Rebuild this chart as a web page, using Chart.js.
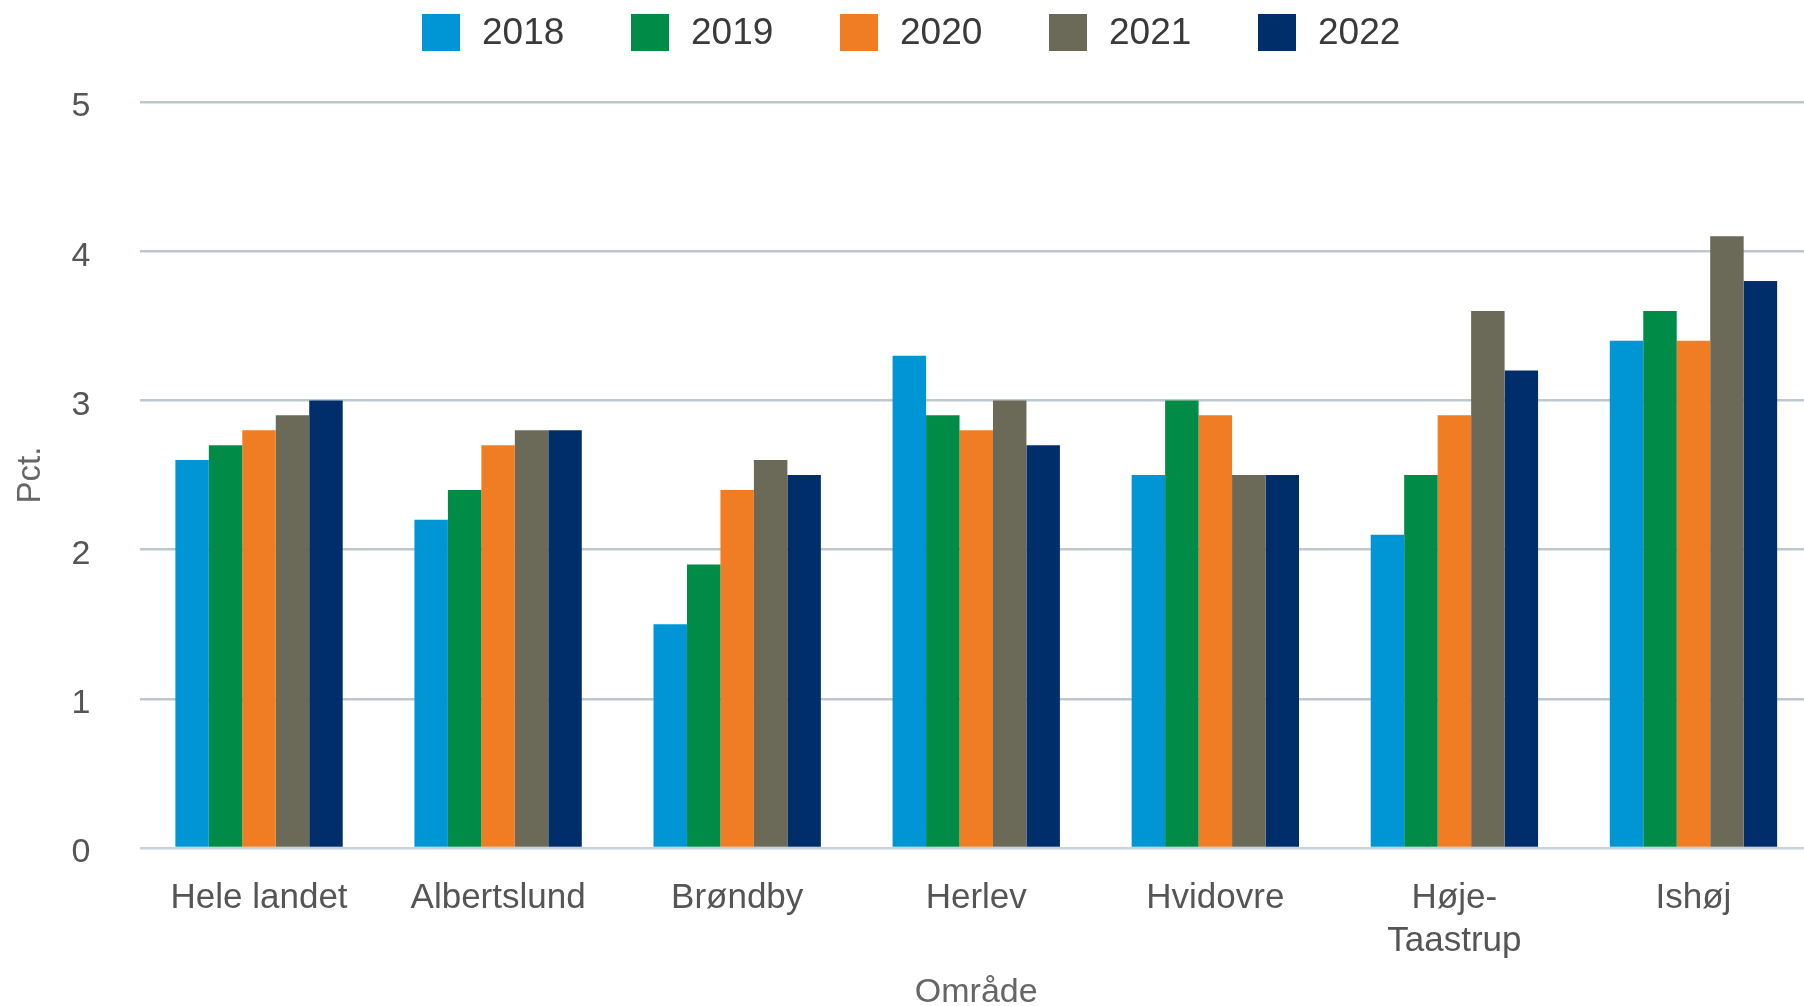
<!DOCTYPE html>
<html>
<head>
<meta charset="utf-8">
<script src="https://cdn.jsdelivr.net/npm/chart.js@4"></script>
<style>
    html, body { margin: 0; padding: 0; background: #fff; overflow: hidden; }
    #wrap { position: relative; width: 1822px; height: 1006px; }
    #legend { position: absolute; left: 422px; top: 13px; display: flex; font-family: "Liberation Sans", Arial, sans-serif; font-size: 37px; color: #3a3a3a; }
    .item { display: flex; align-items: center; width: 209px; height: 38px; }
    .box { width: 38px; height: 37px; margin-right: 22px; }
</style>
</head>
<body>
<div id="wrap">
    <canvas id="chart" width="1822" height="1006"></canvas>
    <div id="legend"></div>
</div>
<script>
const categories = ['Hele landet', 'Albertslund', 'Brøndby', 'Herlev', 'Hvidovre', ['Høje-', 'Taastrup'], 'Ishøj'];
const years = ['2018', '2019', '2020', '2021', '2022'];
const colors = ['#0096d6', '#008c46', '#f07d23', '#6b6a58', '#002e6b'];

const values2018 = [2.6, 2.2, 1.5, 3.3, 2.5, 2.1, 3.4];
const values2019 = [2.7, 2.4, 1.9, 2.9, 3.0, 2.5, 3.6];
const values2020 = [2.8, 2.7, 2.4, 2.8, 2.9, 2.9, 3.4];
const values2021 = [2.9, 2.8, 2.6, 3.0, 2.5, 3.6, 4.1];
const values2022 = [3.0, 2.8, 2.5, 2.7, 2.5, 3.2, 3.8];
const seriesValues = [values2018, values2019, values2020, values2021, values2022];

const yTicks = [0, 1, 2, 3, 4, 5];

const font = '"Liberation Sans", Arial, sans-serif';

const ctx = document.getElementById('chart').getContext('2d');
new Chart(ctx, {
    type: 'bar',
    data: {
        labels: categories,
        datasets: years.map((year, i) => ({
            label: year,
            data: seriesValues[i],
            backgroundColor: colors[i],
            borderWidth: 0,
            categoryPercentage: 0.7,
            barPercentage: 1.0
        }))
    },
    options: {
        responsive: false,
        animation: false,
        layout: { padding: { top: 102, right: 9, bottom: 0, left: 0 } },
        plugins: {
            legend: { display: false },
            tooltip: { enabled: false }
        },
        scales: {
            x: {
                grid: { display: false },
                border: { display: false },
                ticks: {
                    color: '#555',
                    padding: 20,
                    font: { family: font, size: 35, lineHeight: 1.25 },
                    maxRotation: 0,
                    autoSkip: false
                },
                title: {
                    display: true,
                    text: 'Område',
                    color: '#666',
                    padding: { top: 0, bottom: -4 },
                    font: { family: font, size: 34, lineHeight: 1 }
                },
                afterFit: scale => { scale.height = 158; }
            },
            y: {
                min: yTicks[0],
                max: yTicks[yTicks.length - 1],
                afterBuildTicks: scale => { scale.ticks = yTicks.map(v => ({ value: v })); },
                grid: {
                    drawTicks: false,
                    lineWidth: 2.5,
                    color: c => c.tick && c.tick.value === 0 ? '#c8d2de' : '#bec7cb'
                },
                border: { display: false },
                ticks: {
                    color: '#555',
                    padding: 49,
                    labelOffset: 5,
                    font: { family: font, size: 34 }
                },
                title: {
                    display: true,
                    text: 'Pct.',
                    color: '#666',
                    padding: { top: 11, bottom: 0 },
                    font: { family: font, size: 33 }
                },
                afterFit: scale => { scale.width = 139.5; }
            }
        }
    }
});

const legendEl = document.getElementById('legend');
legendEl.innerHTML = years.map((year, i) => `
    <span class="item">
        <span class="box" style="background:${colors[i]}"></span>
        <span>${year}</span>
    </span>
`).join('');
</script>
</body>
</html>
